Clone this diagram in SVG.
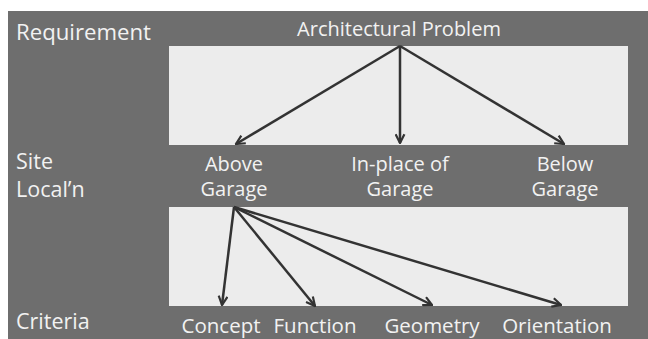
<svg xmlns="http://www.w3.org/2000/svg" width="648" height="339" viewBox="0 0 648 339">
<defs>
<style>
.t{font-family:"Open Sans","Liberation Sans",sans-serif;fill:#f2f2f2;}
.lbl{font-size:21.5px;}
.nd{font-size:20px;text-anchor:middle;}
.cr{font-size:20.5px;text-anchor:middle;}
.c{stroke:#333;stroke-width:2.5;fill:none;marker-end:url(#ah);}
</style>
<marker id="ah" viewBox="0 0 10 10" refX="9" refY="5" markerWidth="4.4" markerHeight="4.4" orient="auto" markerUnits="strokeWidth">
<path d="M1,1 L9,5 L1,9" fill="none" stroke="#333" stroke-width="2"/>
</marker>
</defs>
<rect x="0" y="0" width="648" height="339" fill="#ffffff"/>
<rect x="8" y="11" width="640" height="328" fill="#6e6e6e"/>
<rect x="169" y="46" width="459" height="99" fill="#ececec"/>
<rect x="169" y="207" width="459" height="99" fill="#ececec"/>
<g id="row-labels">
<text class="t lbl" x="16" y="40" textLength="135" lengthAdjust="spacingAndGlyphs">Requirement</text>
<text class="t lbl" x="16" y="169">Site</text>
<text class="t lbl" x="16" y="197">Local’n</text>
<text class="t lbl" x="16" y="329">Criteria</text>
</g>
<g id="arch-problem"><text class="t nd" x="399" y="36">Architectural Problem</text></g>
<g id="above-garage"><text class="t nd" x="234" y="171">Above</text><text class="t nd" x="234" y="196">Garage</text></g>
<g id="inplace-garage"><text class="t nd" x="400" y="171">In-place of</text><text class="t nd" x="400" y="196">Garage</text></g>
<g id="below-garage"><text class="t nd" x="565" y="171">Below</text><text class="t nd" x="565" y="196">Garage</text></g>
<g id="concept"><text class="t cr" x="221" y="333">Concept</text></g>
<g id="function"><text class="t cr" x="315" y="333">Function</text></g>
<g id="geometry"><text class="t cr" x="432" y="333">Geometry</text></g>
<g id="orientation"><text class="t cr" x="557" y="333">Orientation</text></g>
<g id="connectors">
<line class="c" x1="400" y1="46" x2="236" y2="144"/>
<line class="c" x1="400" y1="46" x2="400" y2="143"/>
<line class="c" x1="400" y1="46" x2="564" y2="144"/>
<line class="c" x1="234" y1="207" x2="222" y2="305"/>
<line class="c" x1="234" y1="207" x2="315" y2="306"/>
<line class="c" x1="234" y1="207" x2="432" y2="305"/>
<line class="c" x1="234" y1="207" x2="561" y2="305"/>
</g>
</svg>
